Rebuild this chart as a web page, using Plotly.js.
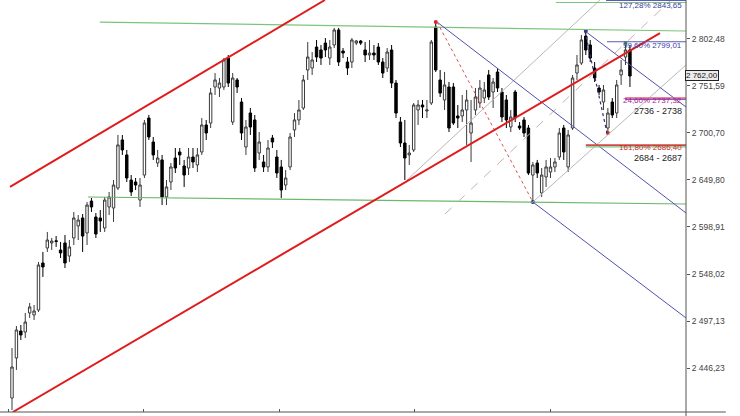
<!DOCTYPE html>
<html>
<head>
<meta charset="utf-8">
<script src="https://cdn.plot.ly/plotly-3.0.1.min.js"></script>
<style>
  html, body { margin: 0; padding: 0; background: #ffffff; }
  #chart { width: 740px; height: 416px; }
</style>
</head>
<body>
<div id="chart"></div>
<script>
// OHLC series, one entry per bar
const openP = [
  2414.1, 2457.4, 2486.5, 2485.4, 2506.0, 2503.8, 2509.2, 2560.0, 2576.2, 2581.6,
  2584.0, 2574.0, 2581.6, 2567.5, 2587.0, 2600.0, 2608.6, 2592.4, 2626.9, 2609.7,
  2608.6, 2597.8, 2620.5, 2619.4, 2641.0, 2692.9, 2676.7, 2649.6, 2647.5, 2628.0,
  2655.0, 2716.6, 2690.7, 2668.0, 2671.3, 2631.3, 2647.5, 2673.4, 2679.9, 2664.8,
  2662.6, 2674.5, 2665.9, 2679.9, 2709.1, 2711.2, 2750.1, 2749.0, 2750.1, 2781.4,
  2712.3, 2757.7, 2733.9, 2685.3, 2722.0, 2714.5, 2678.8, 2669.1, 2663.7, 2695.0,
  2674.5, 2663.7, 2644.2, 2663.7, 2703.7, 2714.5, 2727.4, 2768.5, 2770.6, 2793.3,
  2790.1, 2797.6, 2781.4, 2795.5, 2811.7, 2789.0, 2777.1, 2777.1, 2797.6, 2799.8,
  2790.1, 2784.7, 2786.8, 2793.3, 2777.1, 2770.6, 2790.1, 2754.4, 2712.3, 2689.6,
  2676.7, 2682.1, 2725.3, 2730.7, 2724.2, 2732.8, 2814.9, 2757.7, 2736.1, 2750.1,
  2750.1, 2718.8, 2718.8, 2725.3, 2700.4, 2725.3, 2732.8, 2738.2, 2763.1, 2744.7,
  2766.3, 2744.7, 2736.1, 2706.9, 2744.7, 2708.0, 2714.5, 2705.8, 2655.0, 2668.0,
  2635.6, 2652.9, 2658.3, 2663.7, 2674.5, 2705.8, 2663.7, 2705.8, 2765.2, 2776.0,
  2805.2, 2795.5, 2770.6, 2749.0, 2733.9, 2705.8, 2733.9, 2722.0, 2763.1, 2782.5,
  2790.1
];
const highP = [
  2468.2, 2491.9, 2493.0, 2506.0, 2516.8, 2514.6, 2561.1, 2571.9, 2593.5, 2587.0,
  2589.1, 2582.7, 2590.2, 2584.8, 2615.1, 2611.8, 2612.9, 2625.9, 2630.2, 2614.0,
  2617.2, 2631.3, 2636.7, 2649.6, 2698.3, 2698.3, 2682.1, 2655.0, 2651.8, 2651.8,
  2714.5, 2719.9, 2696.1, 2682.1, 2676.7, 2649.6, 2668.0, 2684.2, 2684.2, 2671.3,
  2684.2, 2684.2, 2684.2, 2716.6, 2714.5, 2749.0, 2765.2, 2759.8, 2781.4, 2784.7,
  2765.2, 2759.8, 2738.2, 2714.5, 2727.4, 2719.9, 2701.5, 2676.7, 2692.9, 2698.3,
  2682.1, 2671.3, 2660.4, 2700.4, 2722.0, 2736.1, 2763.1, 2798.7, 2787.9, 2800.9,
  2795.5, 2803.0, 2800.9, 2813.9, 2813.9, 2792.2, 2782.5, 2803.0, 2800.9, 2800.9,
  2798.7, 2800.9, 2795.5, 2797.6, 2781.4, 2792.2, 2795.5, 2757.7, 2717.7, 2714.5,
  2687.5, 2732.8, 2736.1, 2736.1, 2736.1, 2800.9, 2820.3, 2768.5, 2766.3, 2755.5,
  2754.4, 2730.7, 2741.5, 2746.9, 2736.1, 2749.0, 2757.7, 2755.5, 2768.5, 2759.8,
  2770.6, 2749.0, 2741.5, 2725.3, 2746.9, 2712.3, 2717.7, 2709.1, 2669.1, 2671.3,
  2662.6, 2671.3, 2673.4, 2673.4, 2705.8, 2709.1, 2703.7, 2763.1, 2784.7, 2806.3,
  2810.6, 2800.9, 2777.1, 2752.3, 2752.3, 2727.4, 2738.2, 2757.7, 2779.3, 2797.6,
  2795.5
];
const lowP = [
  2401.2, 2444.4, 2476.8, 2478.9, 2500.6, 2498.4, 2507.0, 2544.9, 2571.9, 2574.0,
  2577.3, 2565.4, 2554.6, 2561.1, 2579.4, 2584.8, 2571.9, 2579.4, 2615.1, 2587.0,
  2593.5, 2593.5, 2611.8, 2604.3, 2638.8, 2676.7, 2647.5, 2632.4, 2638.8, 2620.5,
  2651.8, 2692.9, 2671.3, 2663.7, 2622.6, 2622.6, 2638.8, 2657.2, 2665.9, 2642.1,
  2655.0, 2662.6, 2658.3, 2676.7, 2692.9, 2705.8, 2741.5, 2739.3, 2746.9, 2750.1,
  2709.1, 2743.6, 2692.9, 2676.7, 2698.3, 2658.3, 2671.3, 2658.3, 2658.3, 2684.2,
  2651.8, 2630.2, 2638.8, 2660.4, 2696.1, 2709.1, 2725.3, 2757.7, 2763.1, 2777.1,
  2773.9, 2782.5, 2773.9, 2792.2, 2772.8, 2781.4, 2763.1, 2770.6, 2795.5, 2795.5,
  2777.1, 2779.3, 2779.3, 2773.9, 2759.8, 2766.3, 2749.0, 2716.6, 2685.3, 2649.6,
  2665.9, 2679.9, 2709.1, 2716.6, 2716.6, 2730.7, 2766.3, 2739.3, 2725.3, 2701.5,
  2709.1, 2705.8, 2712.3, 2687.5, 2669.1, 2719.9, 2727.4, 2732.8, 2736.1, 2727.4,
  2744.7, 2712.3, 2705.8, 2701.5, 2712.3, 2703.7, 2696.1, 2655.0, 2625.9, 2651.8,
  2631.3, 2642.1, 2651.8, 2658.3, 2671.3, 2671.3, 2658.3, 2703.7, 2757.7, 2773.9,
  2784.7, 2777.1, 2755.5, 2741.5, 2725.3, 2700.4, 2716.6, 2716.6, 2752.3, 2773.9,
  2750.1
];
const closeP = [
  2447.6, 2487.6, 2482.2, 2496.2, 2512.5, 2508.1, 2557.8, 2555.7, 2584.8, 2583.7,
  2583.2, 2570.8, 2560.0, 2577.3, 2608.6, 2606.4, 2589.1, 2622.6, 2620.5, 2591.3,
  2605.4, 2628.0, 2631.3, 2644.2, 2687.5, 2682.1, 2651.8, 2636.7, 2644.2, 2644.2,
  2711.2, 2696.1, 2676.7, 2673.4, 2631.3, 2642.1, 2663.7, 2662.6, 2676.7, 2655.0,
  2674.5, 2669.1, 2676.7, 2709.1, 2700.4, 2743.6, 2757.7, 2754.4, 2779.3, 2754.4,
  2759.8, 2750.1, 2700.4, 2706.9, 2706.9, 2662.6, 2690.7, 2663.7, 2684.2, 2690.7,
  2657.2, 2638.8, 2651.8, 2696.1, 2714.5, 2725.3, 2757.7, 2782.5, 2779.3, 2782.5,
  2781.4, 2790.1, 2793.3, 2811.7, 2777.1, 2786.8, 2770.6, 2800.9, 2799.8, 2797.6,
  2784.7, 2786.8, 2784.7, 2777.1, 2765.2, 2787.9, 2754.4, 2722.0, 2689.6, 2673.4,
  2678.8, 2730.7, 2730.7, 2728.5, 2725.3, 2798.7, 2768.5, 2743.6, 2752.3, 2705.8,
  2711.2, 2716.6, 2725.3, 2736.1, 2711.2, 2739.3, 2749.0, 2746.9, 2739.3, 2755.5,
  2749.0, 2717.7, 2714.5, 2717.7, 2716.6, 2705.8, 2700.4, 2657.2, 2665.9, 2657.2,
  2655.0, 2663.7, 2663.7, 2669.1, 2700.4, 2679.9, 2698.3, 2759.8, 2773.9, 2800.9,
  2790.1, 2781.4, 2759.8, 2744.7, 2746.9, 2722.0, 2719.9, 2752.3, 2768.5, 2790.1,
  2762.0
];
const bars = openP.map((_, i) => i);

// right-hand price scale
const priceTicks = [2446.23, 2497.13, 2548.02, 2598.91, 2649.80, 2700.70, 2751.59, 2802.48];
const lastPrice = 2762.00;

// Fibonacci targets and their zones
const fibLevels = [2843.65, 2799.01, 2737.32, 2686.40];
const fibLabels = ['127,28% 2843,65', '99,60% 2799,01', '24,60% 2737,32', '161,80% 2686,40'];
const zoneLabels = ['2736 - 2738', '2684 - 2687'];
const fibStart = [134.6, 134.8, 138.9, 130.0];
const resistanceTop = 2841.4;
const resistanceTopStart = 123.2;

// drawn trend lines: [bar0, price0, bar1, price1]
const channelUpper = [-0.45, 2642.1, 70.9, 2844.1];
const channelLower = [0.2, 2399.0, 146.8, 2808.4];
const rangeTop = [19.9, 2820.3, 152.7, 2810.6];
const rangeBottom = [17.2, 2631.3, 152.7, 2623.7];
const fallA = [96.3, 2820.3, 152.7, 2614.0];
const fallC = [129.8, 2810.6, 152.7, 2728.5];
const fallB = [118.0, 2625.9, 152.7, 2500.6];
const swingAB = [96.3, 2820.3, 118.0, 2625.9];
const swingCD = [129.8, 2810.6, 134.8, 2700.4];
const riseLow = [89.5, 2649.6, 133.2, 2844.1];
const riseB = [118.0, 2625.9, 152.7, 2773.9];
const riseMid = [98.1, 2612.9, 149.3, 2844.1];

// swing pivots (bar index, which extreme)
const pivotBars = [96, 118, 130, 135, 139];
const pivotSide = ['high', 'low', 'high', 'low', 'high'];
const pivotColors = ['#d42a2a', '#2a2a8a', '#2a2a8a', '#d42a2a', '#3a9a3a'];

const yRange = [2399.0, 2844.1];
const xRange = [-2.72, 152.7];

function seg(p, color, width, dash) {
  return { type: 'line', xref: 'x', yref: 'y', x0: p[0], y0: p[1], x1: p[2], y1: p[3],
           line: { color: color, width: width, dash: dash || 'solid' }, layer: 'above' };
}
function hseg(x0, price, color, width) {
  return { type: 'line', xref: 'x', yref: 'y', x0: x0, y0: price, x1: xRange[1], y1: price,
           line: { color: color, width: width }, layer: 'above' };
}

const shapes = [
  seg(rangeTop, '#7cc47c', 1.2),
  seg(rangeBottom, '#6cb86c', 1.2),
  seg(riseLow, '#b8b8b8', 1),
  seg(riseB, '#b8b8b8', 1),
  seg(riseMid, '#c8b0b0', 1, 'dash'),
  seg(fallA, '#5050b0', 1),
  seg(fallC, '#5050b0', 1),
  seg(fallB, '#5050b0', 1),
  seg(swingAB, '#e05050', 1, 'dot'),
  seg(swingCD, '#303080', 1.2, 'dot'),
  seg(channelUpper, '#e01b1b', 2),
  seg(channelLower, '#e01b1b', 2),
  hseg(resistanceTopStart, resistanceTop, '#7cc47c', 1.2),
  hseg(fibStart[0], fibLevels[0], '#5a5ab8', 1.2),
  hseg(fibStart[1], fibLevels[1], '#5a5ab8', 1.2),
  hseg(fibStart[2], fibLevels[2] + 0.9, '#e0607a', 1.4),
  hseg(fibStart[2], fibLevels[2] - 0.6, '#8a5ab8', 1.2),
  hseg(fibStart[3], fibLevels[3] + 0.9, '#d04a4a', 1.6),
  hseg(fibStart[3], fibLevels[3] - 0.9, '#7cc47c', 1.2),
  // axis frame running past the price scale
  { type: 'line', xref: 'paper', yref: 'paper', x0: 0, y0: 0, x1: 1.058, y1: 0,
    line: { color: '#555555', width: 1 } },
  { type: 'line', xref: 'paper', yref: 'paper', x0: 1, y0: -0.012, x1: 1, y1: 1,
    line: { color: '#555555', width: 1 } }
];

const fibColors = ['#3a3aa8', '#3a3aa8', '#b0209a', '#cc2a2a'];
const fibShift = [-5, -4, -2, -2];
const annotations = fibLabels.map((t, i) => ({
  xref: 'paper', yref: 'y', x: 1, y: fibLevels[i], xanchor: 'right', yanchor: 'middle',
  xshift: -2, yshift: fibShift[i], text: t, showarrow: false,
  font: { family: 'Liberation Sans, Arial, sans-serif', size: 8, color: fibColors[i] }
}));
zoneLabels.forEach((t, i) => {
  annotations.push({
    xref: 'paper', yref: 'y', x: 1, y: fibLevels[i + 2], xanchor: 'right', yanchor: 'middle',
    xshift: -2, yshift: i === 0 ? -12 : -12, text: t, showarrow: false,
    font: { family: 'Liberation Sans, Arial, sans-serif', size: 9, color: '#222222' }
  });
});
// boxed last-price marker on the scale
annotations.push({
  xref: 'paper', yref: 'y', x: 1, y: lastPrice, xanchor: 'left', yanchor: 'middle',
  xshift: -1,
  text: lastPrice.toFixed(2).replace('.', ',').replace(/^(\d)(\d{3})/, '$1 $2'),
  showarrow: false,
  font: { family: 'Liberation Sans, Arial, sans-serif', size: 8, color: '#111111' },
  bgcolor: '#ececec', bordercolor: '#222222', borderwidth: 1, borderpad: 0
});

const candles = {
  type: 'candlestick', x: bars, open: openP, high: highP, low: lowP, close: closeP,
  increasing: { line: { color: '#3a3a3a', width: 1 }, fillcolor: '#ffffff' },
  decreasing: { line: { color: '#000000', width: 1 }, fillcolor: '#000000' },
  whiskerwidth: 0, hoverinfo: 'skip', showlegend: false
};

const pivots = {
  type: 'scatter', mode: 'markers',
  x: pivotBars,
  y: pivotBars.map((b, i) => pivotSide[i] === 'high' ? highP[b] : lowP[b]),
  marker: { size: 4, color: pivotColors },
  hoverinfo: 'skip', showlegend: false
};

const layout = {
  width: 740, height: 416,
  margin: { l: 0, r: 54, t: 0, b: 4, pad: 0 },
  paper_bgcolor: '#ffffff', plot_bgcolor: '#ffffff',
  separators: ', ',
  showlegend: false,
  hovermode: false,
  boxgap: 0.22,
  xaxis: {
    range: xRange, showgrid: false, zeroline: false, showline: false,
    rangeslider: { visible: false },
    tick0: 29.9, dtick: 30.7, ticks: 'inside', ticklen: 3, tickcolor: '#555555',
    showticklabels: false, fixedrange: true
  },
  yaxis: {
    range: yRange, side: 'right', showgrid: false, zeroline: false,
    showline: false, tickvals: priceTicks, tickformat: ',.2f',
    ticks: 'outside', ticklen: 3, tickcolor: '#555555',
    tickfont: { family: 'Liberation Sans, Arial, sans-serif', size: 8.5, color: '#444444' },
    fixedrange: true
  },
  yaxis2: {
    range: yRange, overlaying: 'y', side: 'right', showgrid: false, zeroline: false,
    showline: false, tickvals: priceTicks, ticks: 'inside', ticklen: 3, tickcolor: '#555555',
    showticklabels: false, fixedrange: true
  },
  shapes: shapes,
  annotations: annotations
};

Plotly.newPlot('chart', [candles, pivots], layout, { displayModeBar: false, staticPlot: true });
</script>
</body>
</html>
